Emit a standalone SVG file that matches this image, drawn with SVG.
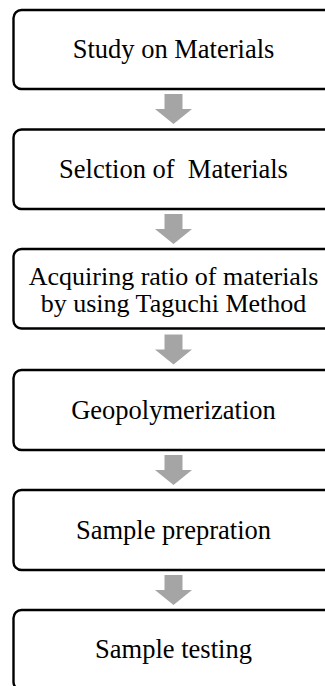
<svg xmlns="http://www.w3.org/2000/svg" width="325" height="686" viewBox="0 0 325 686">
  <defs>
    <style>
      .box { fill: #ffffff; stroke: #000000; stroke-width: 2.4; }
      .label { font-family: "Liberation Serif", "Times New Roman", serif; font-size: 26.5px; fill: #000000; text-anchor: middle; white-space: pre; }
      .tight { font-size: 26px; }
      .arrow { fill: #a5a5a5; }
    </style>
    <!-- block arrow pointing down, origin at top centre -->
    <path id="down" class="arrow" d="M-9,0 H9 V15 H18.5 L0,30 L-18.5,15 H-9 Z"/>
  </defs>

  <rect width="325" height="686" fill="#ffffff"/>

  <g id="connectors">
    <use href="#down" x="173.5" y="94"/>
    <use href="#down" x="173.5" y="214"/>
    <use href="#down" x="173.5" y="334.5"/>
    <use href="#down" x="173.5" y="455"/>
    <use href="#down" x="173.5" y="575"/>
  </g>

  <g id="study">
    <rect class="box" x="13.5" y="10" width="320" height="79" rx="8"/>
    <text class="label" x="173.5" y="57.7">Study on Materials</text>
  </g>

  <g id="selection">
    <rect class="box" x="13.5" y="129.5" width="320" height="79.5" rx="8"/>
    <text class="label" x="173.5" y="177.7" xml:space="preserve">Selction of  Materials</text>
  </g>

  <g id="ratio">
    <rect class="box" x="13.5" y="249" width="320" height="79.5" rx="8"/>
    <text class="label tight" x="173.5" y="284.5">Acquiring ratio of materials</text>
    <text class="label tight" x="173.5" y="312">by using Taguchi Method</text>
  </g>

  <g id="geopolymerization">
    <rect class="box" x="13.5" y="370" width="320" height="80" rx="8"/>
    <text class="label" x="173.5" y="418.5">Geopolymerization</text>
  </g>

  <g id="preparation">
    <rect class="box" x="13.5" y="490" width="320" height="80" rx="8"/>
    <text class="label" x="173.5" y="538.5">Sample prepration</text>
  </g>

  <g id="testing">
    <rect class="box" x="13.5" y="610" width="320" height="80" rx="8"/>
    <text class="label" x="173.5" y="658.3">Sample testing</text>
  </g>
</svg>
